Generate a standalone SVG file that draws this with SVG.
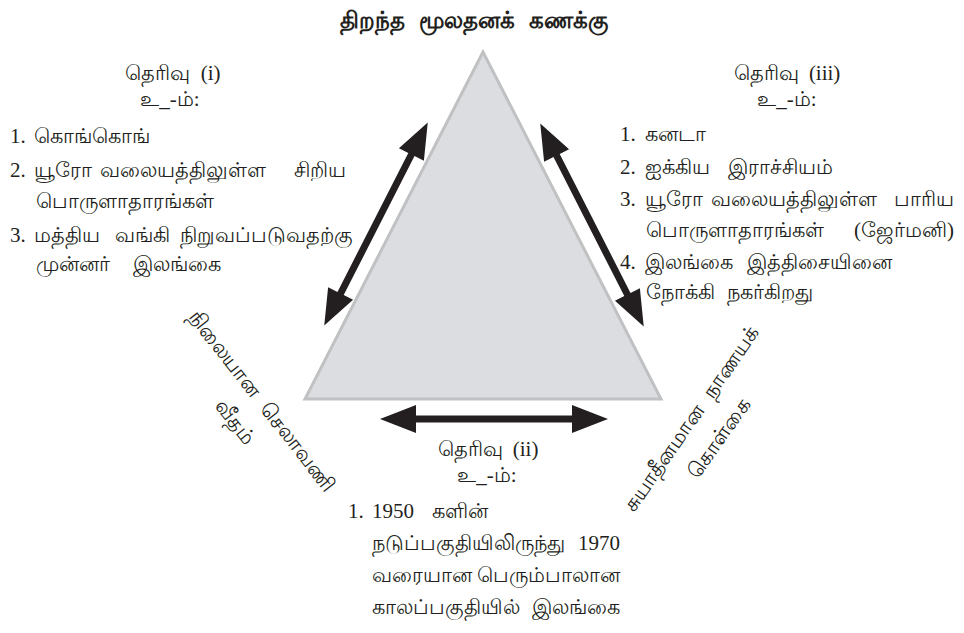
<svg xmlns="http://www.w3.org/2000/svg" xmlns:xlink="http://www.w3.org/1999/xlink" width="964" height="633" viewBox="0 0 964 633">
<defs>
<style>
text{font-family:"Liberation Serif","Noto Sans",serif;font-size:21px;fill:#231f20}
.t{font-weight:bold;font-size:23px;font-family:"Liberation Sans","Noto Sans",sans-serif}
.c{text-anchor:middle}
.e{text-anchor:end}
.ws{word-spacing:8px}
</style>
<polygon id="dbl" points="-114,0 -78,-14 -78,-3.5 78,-3.5 78,-14 114,0 78,14 78,3.5 -78,3.5 -78,14" fill="#231f20"/>
</defs>
<rect width="964" height="633" fill="#fff"/>
<g id="triangle">
<polygon points="483,52 305,399 661,399" fill="#dcdde0" stroke="#c0c1c3" stroke-width="3"/>
</g>
<g id="title"><text class="t c ws" x="474" y="28">திறந்த மூலதனக் கணக்கு</text></g>
<g id="connectors">
<use xlink:href="#dbl" href="#dbl" transform="translate(376,224) rotate(-63)"/>
<use xlink:href="#dbl" href="#dbl" transform="translate(592,225) rotate(63)"/>
<use xlink:href="#dbl" href="#dbl" transform="translate(494,419)"/>
</g>
<g id="option1">
<text class="c" x="173" y="80" style="word-spacing:5px">தெரிவு (i)</text>
<text class="c" x="170" y="106">உ_-ம்:</text>
<text y="143"><tspan x="10">1.</tspan><tspan x="34">கொங்கொங்</tspan></text>
<text y="177"><tspan x="10">2.</tspan><tspan x="34">யூரோ</tspan><tspan x="100">வலையத்திலுள்ள</tspan><tspan class="e" x="346">சிறிய</tspan></text>
<text x="36" y="208">பொருளாதாரங்கள்</text>
<text y="242"><tspan x="10">3.</tspan><tspan x="34">மத்திய</tspan><tspan x="115">வங்கி</tspan><tspan class="e" x="353">நிறுவப்படுவதற்கு</tspan></text>
<text y="271"><tspan x="36">முன்னர்</tspan><tspan x="133">இலங்கை</tspan></text>
</g>
<g id="option3">
<text class="c" x="787" y="80" style="word-spacing:5px">தெரிவு (iii)</text>
<text class="c" x="787" y="106">உ_-ம்:</text>
<text y="141"><tspan x="620">1.</tspan><tspan x="645">கனடா</tspan></text>
<text y="174"><tspan x="620">2.</tspan><tspan x="645">ஐக்கிய</tspan><tspan x="728">இராச்சியம்</tspan></text>
<text y="206"><tspan x="620">3.</tspan><tspan x="645">யூரோ</tspan><tspan x="711">வலையத்திலுள்ள</tspan><tspan class="e" x="954">பாரிய</tspan></text>
<text y="237"><tspan x="646">பொருளாதாரங்கள்</tspan><tspan class="e" x="954">(ஜேர்மனி)</tspan></text>
<text y="269"><tspan x="620">4.</tspan><tspan x="645">இலங்கை</tspan><tspan x="747">இத்திசையினை</tspan></text>
<text y="299"><tspan x="646">நோக்கி</tspan><tspan x="727">நகர்கிறது</tspan></text>
</g>
<g id="option2">
<text class="c" x="488" y="456" style="word-spacing:5px">தெரிவு (ii)</text>
<text class="c" x="487" y="482">உ_-ம்:</text>
<text y="518"><tspan x="348">1.</tspan><tspan x="372">1950</tspan><tspan x="432">களின்</tspan></text>
<text y="550"><tspan x="372">நடுப்பகுதியிலிருந்து</tspan><tspan class="e" x="620">1970</tspan></text>
<text y="582"><tspan x="372">வரையான</tspan><tspan class="e" x="620">பெரும்பாலான</tspan></text>
<text y="614"><tspan x="372">காலப்பகுதியில்</tspan><tspan class="e" x="620">இலங்கை</tspan></text>
</g>
<g id="label-fixed" transform="translate(262,401) rotate(52)">
<text class="c ws" x="0" y="7">நிலையான செலாவணி</text>
<text class="c" x="0" y="41">வீதம்</text>
</g>
<g id="label-independent" transform="translate(691,419) rotate(-55)">
<text class="c ws" x="0" y="7">சுயாதீனமான நாணயக்</text>
<text class="c" x="0" y="41">கொள்கை</text>
</g>
</svg>
